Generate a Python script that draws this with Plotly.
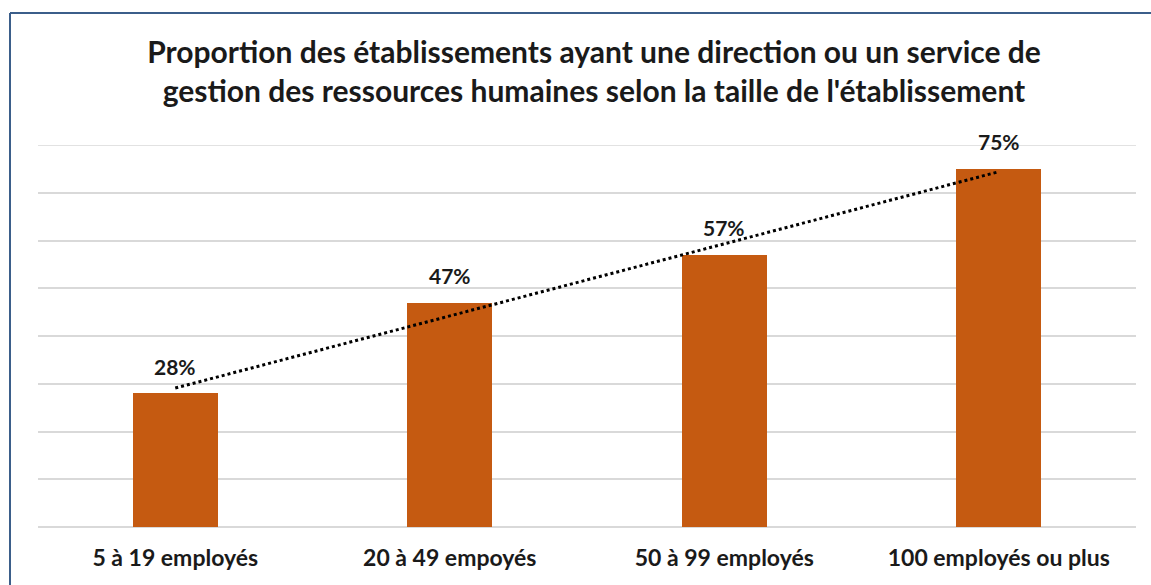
import numpy as np
import plotly.graph_objects as go

categories = ["5 à 19 employés", "20 à 49 empoyés", "50 à 99 employés", "100 employés ou plus"]
values = [28, 47, 57, 75]
labels = ["28%", "47%", "57%", "75%"]

W, H = 1151, 585
L, R, T, B = 38, 15, 145, 58
pw, ph = W - L - R, H - T - B

xi = np.arange(len(values))
slope, intercept = np.polyfit(xi, values, 1)
trend = slope * xi + intercept

font = "Lato"
grid = "#D9D9D9"
fig = go.Figure()
fig.add_trace(go.Bar(
    x=categories, y=values, width=0.31,
    marker=dict(color="#C55A11", line=dict(width=0)),
    hoverinfo="skip",
))
fig.add_trace(go.Scatter(
    x=categories, y=trend, mode="lines",
    line=dict(color="#000000", width=3, dash="dot"),
    hoverinfo="skip",
))
for c, v, t in zip(categories, values, labels):
    fig.add_annotation(x=c, y=v, text=t, showarrow=False, yshift=27,
                       yanchor="middle",
                       font=dict(family=font, size=21, color="#1a1a1a", weight="bold"))

def px(xp):
    return (xp - L) / pw

def py(yp):
    return (H - B - yp) / ph

fig.add_shape(type="line", xref="paper", yref="y", layer="below",
              x0=0, x1=1, y0=80, y1=80, line=dict(color=grid, width=1.5))
fig.add_shape(type="line", xref="paper", yref="paper",
              x0=px(10), x1=px(W + 5), y0=py(13), y1=py(13),
              line=dict(color="#3B5E8A", width=2))
fig.add_shape(type="line", xref="paper", yref="paper",
              x0=px(10), x1=px(10), y0=py(13), y1=py(H + 5),
              line=dict(color="#3B5E8A", width=2))

fig.update_layout(
    width=W, height=H,
    margin=dict(l=L, r=R, t=T, b=B),
    paper_bgcolor="white", plot_bgcolor="white",
    showlegend=False,
    bargap=0,
    title=dict(
        text="Proportion des établissements ayant une direction ou un service de<br>gestion des ressources humaines selon la taille de l'établissement",
        x=594 / W, xanchor="center", y=1 - 63 / H, yanchor="middle",
        font=dict(family=font, size=30, color="#1a1a1a", weight="bold"),
    ),
    xaxis=dict(
        showline=False, showgrid=False, ticks="",
        tickfont=dict(family=font, size=23, color="#1a1a1a", weight="bold"),
        ticklabelstandoff=15,
    ),
    yaxis=dict(
        range=[0, 80], tickvals=[10, 20, 30, 40, 50, 60, 70, 80], showticklabels=False,
        showgrid=True, gridcolor=grid, gridwidth=1.5,
        zeroline=True, zerolinecolor=grid, zerolinewidth=1.5,
        showline=False, ticks="",
    ),
)

fig.write_html("out.html")
